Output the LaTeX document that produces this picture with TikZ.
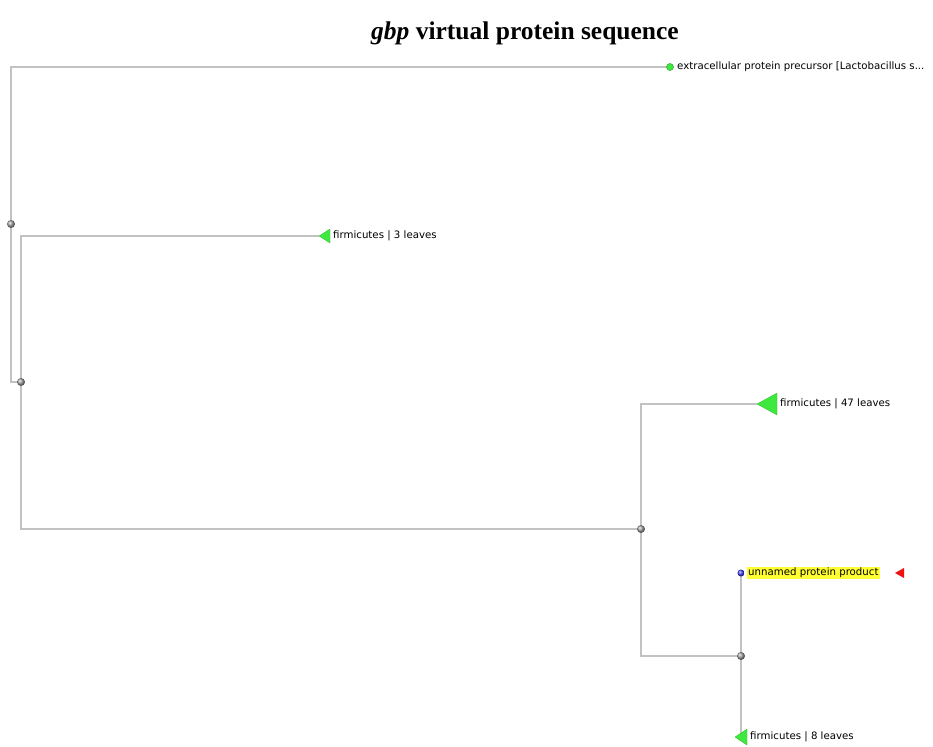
\documentclass[tikz,border=0pt]{standalone}
\usepackage{fontspec}
\setmainfont{Liberation Serif}
\newfontfamily\leaffont{DejaVu Sans}
\usetikzlibrary{positioning}
\definecolor{branch}{HTML}{C2C2C2}
\definecolor{leafg}{HTML}{3FE83F}
\definecolor{dotg}{HTML}{A0A0A0}
\definecolor{qblue}{HTML}{4040F5}
\definecolor{hl}{HTML}{FFFF33}
\definecolor{qred}{HTML}{F01010}

\begin{document}
\begin{tikzpicture}[x=1pt, y=-1pt,
  br/.style={draw=branch, line width=1.4pt},
  jn/.style={circle, inner sep=0pt, minimum size=8pt, shading=ball, ball color=dotg},
  lf/.style={circle, inner sep=0pt, minimum size=7pt, draw=leafg!70!black, fill=leafg, line width=0.5pt},
  qn/.style={circle, inner sep=0pt, minimum size=7pt, shading=ball, ball color=qblue},
  lbl/.style={font=\leaffont\fontsize{10.2}{12}\selectfont, inner sep=1pt, anchor=west},
  tri/.style={fill=leafg, draw=leafg!80!black, line width=0.3pt}]

\useasboundingbox (0,0) rectangle (933,746);

\node[font=\bfseries\fontsize{25.5}{30}\selectfont] (title) at (525,33) {\textit{gbp} virtual protein sequence};

\coordinate (root) at (11,224);
\coordinate (n1) at (21,382);
\coordinate (n2) at (641,529);
\coordinate (n3) at (741,656);
\coordinate (top) at (670,67);
\coordinate (t3) at (319,236);
\coordinate (t47) at (757,404);
\coordinate (qry) at (741,573);
\coordinate (t8) at (741,737);

\draw[br] (root) |- (top);
\draw[br] (root) |- (n1);
\draw[br] (n1) |- (t3);
\draw[br] (n1) |- (n2);
\draw[br] (n2) |- (t47);
\draw[br] (n2) |- (n3);
\draw[br] (n3) -- (qry);
\draw[br] (n3) -- (t8);

\filldraw[tri] (t3) -- ++(11,-7) -- ++(0,14) -- cycle;
\filldraw[tri] (t47) -- ++(20,-11) -- ++(0,22) -- cycle;
\filldraw[tri] ([xshift=-6pt]t8) -- ++(12,-8) -- ++(0,16) -- cycle;

\node[jn] (d0) at (root) {};
\node[jn] (d1) at (n1) {};
\node[jn] (d2) at (n2) {};
\node[jn] (d3) at (n3) {};
\node[lf] (dtop) at (top) {};
\node[qn] (dqry) at (qry) {};

\node[lbl] (ltop) at (676,67) {extracellular protein precursor [Lactobacillus s...};
\node[lbl] (l3) at (332,236) {firmicutes | 3 leaves};
\node[lbl] (l47) at (779,404) {firmicutes | 47 leaves};
\node[lbl, fill=hl] (lqry) at (747,573) {unnamed protein product};
\node[lbl] (l8) at (749,737) {firmicutes | 8 leaves};
\coordinate (rm) at (895,573);
\fill[qred] (rm) -- ++(9,-5) -- ++(0,10) -- cycle;
\end{tikzpicture}
\end{document}
